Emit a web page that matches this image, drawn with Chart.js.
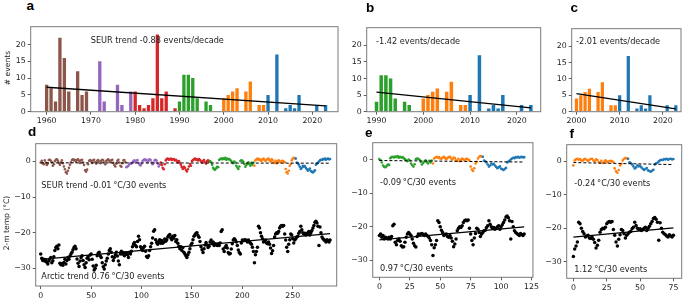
<!DOCTYPE html>
<html><head><meta charset="utf-8">
<script src="https://cdn.jsdelivr.net/npm/chart.js@4.4.1/dist/chart.umd.min.js"></script>
<style>
html,body{margin:0;padding:0;background:#fff;}
body{width:685px;height:301px;position:relative;overflow:hidden;}
canvas{position:absolute;}
.t{position:absolute;white-space:nowrap;line-height:1;color:#222;font-family:"DejaVu Sans",sans-serif;}
.lab{position:absolute;white-space:nowrap;line-height:1;font-family:"Liberation Sans",Arial,sans-serif;font-weight:bold;color:#000;}
.yt{position:absolute;white-space:nowrap;line-height:1;font-family:"DejaVu Sans",sans-serif;color:#222;transform:translate(-50%,-50%) rotate(-90deg);}
</style></head><body>
<script>
// ---------------- DATA ----------------
const years = [1960,1961,1962,1963,1964,1965,1966,1967,1968,1969,
  1970,1971,1972,1973,1974,1975,1976,1977,1978,1979,
  1980,1981,1982,1983,1984,1985,1986,1987,1988,1989,
  1990,1991,1992,1993,1994,1995,1996,1997,1998,1999,
  2000,2001,2002,2003,2004,2005,2006,2007,2008,2009,
  2010,2011,2012,2013,2014,2015,2016,2017,2018,2019,
  2020,2021,2022,2023];
const eventCounts = [8,7,3,22,16,6,0,12,5,6,
  0,0,15,3,0,0,8,2,0,6,
  6,2,1,2,4,23,4,6,0,1,
  3,11,11,10,4,0,3,2,0,0,
  4,5,6,7,0,6,9,0,2,2,
  5,0,17,0,1,2,1,5,0,0,
  0,2,0,2];
const groupStarts = [1960,1970,1980,1990,2000,2010];
const groupColors = ['#8c564b','#9467bd','#d62728','#2ca02c','#ff7f0e','#1f77b4'];

// 2-m temperature of each event (in event order), SE US region
const seurTemp = [
  -0.3,0.2,-0.5,-0.8,0.3,-0.4,-1.0,-0.6,0.4,0.5,
  0.2,-0.2,-1.2,-0.8,0.1,0.5,0.6,0.2,-0.4,-0.9,
  -0.3,0.3,-0.5,-1.4,-2.2,-3.0,-3.4,-2.6,-1.8,-0.9,
  -0.2,0.4,0.6,0.3,0.5,-0.1,0.4,0.6,0.2,-0.4,
  0.3,0.5,-0.3,-1.0,-2.5,-2.9,-2.3,-0.8,0.2,0.4,
  0.1,-0.4,0.3,0.5,-0.2,-0.6,0.2,0.4,0.0,-0.5,
  0.2,0.5,0.3,-0.3,-0.8,0.1,0.4,0.6,0.2,-0.2,
  0.3,0.5,-0.4,-1.0,-1.4,-0.6,0.2,0.5,-0.3,-1.2,
  -1.5,-0.5,0.3,0.4,-0.2,
  -1.6,-1.4,-1.2,-0.8,-0.5,-0.6,-0.2,0.1,0.3,-0.3,
  0.2,0.4,-0.4,-0.9,-1.1,-0.6,0.1,0.4,0.6,0.3,
  0.5,-0.2,0.2,0.6,0.4,-0.3,-0.8,-0.4,0.3,0.5,
  0.2,-0.6,-1.4,-0.9,
  -0.3,-1.0,-1.8,-2.2,-0.8,0.3,0.7,0.8,0.5,0.6,
  0.8,0.4,0.6,0.7,0.3,0.5,0.2,-0.2,0.1,-0.4,
  -1.0,-1.6,-2.1,-1.5,-1.8,-2.4,-2.8,-2.2,-1.4,-0.7,
  -1.2,0.1,0.4,0.6,0.8,0.5,0.6,0.3,0.7,0.4,
  0.0,-0.3,0.2,0.4,-0.2,-0.6,0.1,0.3,-0.1,
  0.1,-0.2,-0.9,-1.8,-2.2,-2.3,-1.9,-1.5,-1.6,0.4,
  0.7,0.8,0.6,0.9,0.7,1.0,0.5,0.8,0.6,0.7,
  0.4,0.1,-0.2,-0.5,0.0,-0.3,-1.2,-1.7,-2.1,-1.4,
  0.1,0.3,0.2,-0.1,-0.7,-1.5,-1.0,-0.6,-0.2,-0.8,
  -1.2,-0.4,-0.9,-0.3,
  -1.2,0.3,0.6,0.8,0.5,0.7,0.3,0.2,0.6,0.8,
  0.4,0.1,0.5,0.7,0.8,0.3,0.0,0.6,0.4,-0.2,
  -0.4,0.2,-0.5,-0.1,0.3,0.0,-0.3,0.1,0.2,0.0,
  -0.2,-2.1,-3.0,-3.4,-2.6,-1.2,-0.7,0.3,0.8,1.0,
  0.9,
  0.8,-0.3,-0.5,-0.9,-1.5,-2.1,-1.8,-1.2,-1.5,-1.3,
  -1.8,-2.2,-2.6,-2.3,-2.0,-2.7,-2.9,-3.1,-2.8,-2.5,
  -0.9,-0.6,-0.4,0.0,0.3,0.5,0.4,0.7,0.6,0.8,
  0.5,0.7,0.8,0.6,0.7];

// 2-m temperature of each event (in event order), Arctic
const arcticTemp = [
  -26.0,-27.2,-27.8,-27.5,-28.0,-27.6,-28.3,-28.8,-28.0,-27.4,
  -27.0,-28.5,-27.9,-26.8,-25.0,-24.2,-23.8,-24.5,-23.5,-28.6,
  -29.0,-28.7,-29.2,-28.4,-27.5,-28.8,-27.8,-27.0,-27.5,-26.6,
  -26.0,-25.5,-24.8,-24.2,-23.8,-24.5,-27.4,-28.6,-29.5,-28.0,
  -27.0,-26.5,-27.8,-29.0,-29.8,-28.5,-27.2,-26.8,-27.6,-26.3,
  -26.0,-27.5,-29.4,-30.5,-30.0,-29.2,-26.5,-25.8,-25.5,-26.5,
  -27.0,-28.5,-29.6,-30.2,-29.0,-28.0,-27.2,-26.0,-25.0,-24.5,
  -25.5,-26.8,-27.8,-27.0,-26.2,-25.5,-26.6,-28.0,-29.0,-26.0,
  -25.2,-26.0,-25.6,-26.5,-25.8,
  -25.8,-26.2,-27.0,-25.5,-26.0,-25.2,-24.0,-23.2,-22.8,-23.6,
  -24.0,-22.5,-21.0,-22.0,-24.0,-24.5,-25.0,-24.2,-23.8,-25.2,
  -26.7,-27.0,-26.5,-25.0,-24.0,-23.0,-21.5,-19.6,-19.2,-22.0,
  -22.8,-23.3,-22.5,-22.0,-23.0,-22.2,-23.0,-22.6,-21.8,-22.4,
  -22.0,-21.2,-20.8,-20.5,-21.5,-22.0,-21.0,-21.6,-20.8,-22.5,
  -22.0,-23.0,-23.8,-24.5,-24.0,-25.0,-24.2,-25.5,-26.0,-26.5,
  -27.0,-26.2,-25.5,-24.5,-23.5,-23.0,-22.0,-21.0,-20.6,-20.2,
  -20.0,-20.8,-21.3,-22.5,-24.0,-24.8,-25.6,-24.5,-23.5,-22.8,
  -23.5,-24.2,-23.8,
  -22.6,-22.1,-23.1,-22.6,-23.6,-23.1,-23.3,-23.6,-23.1,-23.6,
  -22.9,-19.7,-19.2,-24.6,-25.3,-24.1,-23.6,-24.3,-25.6,-26.0,
  -25.9,-24.6,-23.1,-22.1,-21.7,-22.1,-22.6,-23.6,-24.9,-25.6,
  -26.0,-22.9,-22.1,-22.3,-22.1,-22.0,-22.3,-22.6,-22.1,-22.6,
  -22.9,-23.3,-24.1,-25.3,-28.5,-26.2,-25.3,-24.1,-18.2,-18.7,
  -20.0,-21.0,-21.7,-22.6,-22.3,-22.1,-22.9,-23.1,-22.6,-23.3,
  -24.3,-25.9,-25.1,-23.6,-21.2,-20.4,-20.0,-20.2,-19.7,-18.7,
  -18.2,-18.0,-18.2,-18.0,-20.4,-22.1,-24.1,-25.3,-23.3,-22.0,
  -20.4,-20.7,-21.7,-22.9,-22.1,-21.7,-21.2,-21.0,-20.2,-19.7,
  -18.2,-19.2,-20.0,-20.4,-20.2,-20.7,-20.4,-20.0,-19.7,-20.7,
  -20.0,-19.4,-18.7,-18.0,-17.1,-16.8,-17.3,-18.2,-23.6,-18.4,
  -20.0,-21.2,-21.7,-22.0,-22.3,-22.6,-22.0,-22.3,-22.6,-22.1];

// trend-line end values
const barTrendA = [7.27, 1.73];   // years 1960 -> 2023
const barTrendB = [5.87, 1.18];   // years 1990 -> 2023
const barTrendC = [5.48, 0.86];   // years 2000 -> 2023
const seurTrendD = [-0.38, -0.48], arcticTrendD = [-27.5, -20.3];
const seurTrendE = [-0.30, -0.75], arcticTrendE = [-23.9, -20.0];
const seurTrendF = [-0.35, -0.95], arcticTrendF = [-22.7, -19.9];

// tick labels
const countTicks = [0,5,10,15,20];
const yearTicksA = [1960,1970,1980,1990,2000,2010,2020];
const yearTicksB = [1990,2000,2010,2020];
const yearTicksC = [2000,2010,2020];
const tempTicks = [0,-10,-20,-30];
const eventTicksD = [0,50,100,150,200,250];
const eventTicksE = [0,25,50,75,100,125];
const eventTicksF = [0,25,50,75];

// ---------------- HELPERS ----------------
function groupColor(y){ let k=0; groupStarts.forEach((s,i)=>{ if(y>=s) k=i; }); return groupColors[k]; }
const eventYears = [];
years.forEach((y,i)=>{ for(let n=0;n<eventCounts[i];n++) eventYears.push(y); });
const startE = eventYears.filter(y=>y<1990).length;
const startF = eventYears.filter(y=>y<2000).length;

const TICK_FONT = {family:'"DejaVu Sans", sans-serif', size:7.8};
const framePlugin = {id:'frame', afterDatasetsDraw(chart){
  const a=chart.chartArea, c=chart.ctx; c.save(); c.strokeStyle='#7a7a7a'; c.lineWidth=1;
  c.strokeRect(a.left, a.top, a.right-a.left, a.bottom-a.top); c.restore(); }};

function makeCanvas(f){
  const cl=Math.floor(f.l-32), ct=Math.floor(f.t-4);
  const cw=Math.ceil(f.r+7)-cl, ch=Math.ceil(f.b+16)-ct;
  const cv=document.createElement('canvas'); cv.width=cw; cv.height=ch;
  cv.style.left=cl+'px'; cv.style.top=ct+'px'; cv.style.width=cw+'px'; cv.style.height=ch+'px';
  document.body.appendChild(cv);
  return {cv, W:f.l-cl, padT:f.t-ct, padR:cl+cw-f.r, H:ct+ch-f.b};
}
const minusFmt = v => v<0 ? '\u2212'+Math.abs(v) : String(v);
function axis(min,max,ticks,fit,fmt){
  return {type:'linear', min, max, offset:false,
    afterBuildTicks:s=>{ s.ticks = ticks.map(v=>({value:v})); },
    afterFit:fit,
    grid:{display:true, drawOnChartArea:false, drawTicks:true, tickLength:3, color:'#333', lineWidth:0.8, offset:false},
    border:{display:false},
    ticks:{autoSkip:false, maxRotation:0, minRotation:0, padding:2, font:TICK_FONT, color:'#222', callback:fmt||(v=>String(v))}
  };
}
function baseOpts(g, xs, ys){
  return {responsive:false, animation:false, devicePixelRatio:1,
    layout:{padding:{left:0, top:g.padT, right:g.padR, bottom:0}},
    plugins:{legend:{display:false}, tooltip:{enabled:false}},
    scales:{x:xs, y:ys}};
}

function barPanel(f, y0, y1, trend, xmin, xmax, xticks){
  const g=makeCanvas(f);
  const idx=years.map((y,i)=>i).filter(i=>years[i]>=y0);
  const pts=idx.map(i=>({x:years[i], y:eventCounts[i]}));
  const cols=idx.map(i=>groupColor(years[i]));
  new Chart(g.cv, {type:'bar',
    data:{datasets:[
      {type:'line', data:[{x:y0,y:trend[0]},{x:y1,y:trend[1]}], borderColor:'#000', borderWidth:1.3, pointRadius:0, order:0},
      {type:'bar', data:pts, backgroundColor:cols, borderWidth:0, barPercentage:0.75, categoryPercentage:1, order:1}
    ]},
    options:baseOpts(g,
      axis(xmin,xmax,xticks,s=>{s.height=g.H;}),
      axis(0,25.3,countTicks,s=>{s.width=g.W;})),
    plugins:[framePlugin]});
}

function tempPanel(f, start, sTrend, aTrend, xmin, xmax, xticks, fmt){
  const g=makeCanvas(f);
  const s=seurTemp.slice(start), a=arcticTemp.slice(start), yrs=eventYears.slice(start);
  const n=s.length-1;
  new Chart(g.cv, {type:'scatter',
    data:{datasets:[
      {type:'line', data:[{x:0,y:sTrend[0]},{x:n,y:sTrend[1]}], borderColor:'#000', borderWidth:1, borderDash:[3,2], pointRadius:0, order:0},
      {type:'line', data:[{x:0,y:aTrend[0]},{x:n,y:aTrend[1]}], borderColor:'#000', borderWidth:1.2, pointRadius:0, order:0},
      {data:s.map((v,i)=>({x:i,y:v})), backgroundColor:yrs.map(groupColor), pointRadius:1.3, borderWidth:0, order:1},
      {data:a.map((v,i)=>({x:i,y:v})), backgroundColor:'#000', pointRadius:1.75, borderWidth:0, order:1}
    ]},
    options:baseOpts(g,
      axis(xmin,xmax,xticks,s=>{s.height=g.H;}),
      axis(-35,5,tempTicks,s=>{s.width=g.W;},fmt)),
    plugins:[framePlugin]});
}

barPanel({l:30.7,t:24.3,r:338,b:111.7}, 1960, 2023, barTrendA, 1956.4, 2025.8, yearTicksA);
barPanel({l:366.7,t:25,r:540.7,b:111.7}, 1990, 2023, barTrendB, 1987.9, 2025.1, yearTicksB);
barPanel({l:571.7,t:26.7,r:681,b:111.7}, 2000, 2023, barTrendC, 1998.9, 2024.2, yearTicksC);
tempPanel({l:35.7,t:141.7,r:336.7,b:286}, 0, seurTrendD, arcticTrendD, -5, 293.6, eventTicksD, minusFmt);
tempPanel({l:372.7,t:140.7,r:533.3,b:277.3}, startE, seurTrendE, arcticTrendE, -5.5, 126.2, eventTicksE, minusFmt);
tempPanel({l:566.7,t:142.7,r:681.7,b:278.3}, startF, seurTrendF, arcticTrendF, -5, 81.2, eventTicksF, minusFmt);

// ---------------- TEXT ----------------
function addText(cls, txt, left, baseline, size){
  const d=document.createElement('div'); d.className=cls; d.textContent=txt;
  d.style.fontSize=size+'px'; d.style.left=left+'px'; d.style.top=(baseline-0.846*size)+'px';
  document.body.appendChild(d);
}
function addYTitle(txt, cx, cy, size){
  const d=document.createElement('div'); d.className='yt'; d.textContent=txt;
  d.style.fontSize=size+'px'; d.style.left=cx+'px'; d.style.top=cy+'px';
  document.body.appendChild(d);
}
addText('lab','a',26.5,10.2,13.5);
addText('lab','b',366,12.7,13.5);
addText('lab','c',570.5,12.7,13.5);
addText('lab','d',28,136.7,13.5);
addText('lab','e',365,137.5,13.5);
addText('lab','f',569.5,138.5,13.5);

addText('t','SEUR trend -0.88 events/decade',90.7,42.5,8.2);
addText('t','-1.42 events/decade',376,43.6,8.2);
addText('t','-2.01 events/decade',576,44.3,8.2);
addText('t','SEUR trend -0.01\u2009\u00b0C/30 events',41.3,187.7,8.2);
addText('t','Arctic trend 0.76\u2009\u00b0C/30 events',41.3,279,8.2);
addText('t','-0.09\u2009\u00b0C/30 events',380,185,8.2);
addText('t','0.97\u2009\u00b0C/30 events',380,270.7,8.2);
addText('t','-0.24\u2009\u00b0C/30 events',574.3,186.3,8.2);
addText('t','1.12\u2009\u00b0C/30 events',574.3,272,8.2);

addYTitle('# events', 8.3, 68, 7.6);
addYTitle('2-m temp (\u00b0C)', 7.3, 223, 7.6);
</script>
</body></html>
